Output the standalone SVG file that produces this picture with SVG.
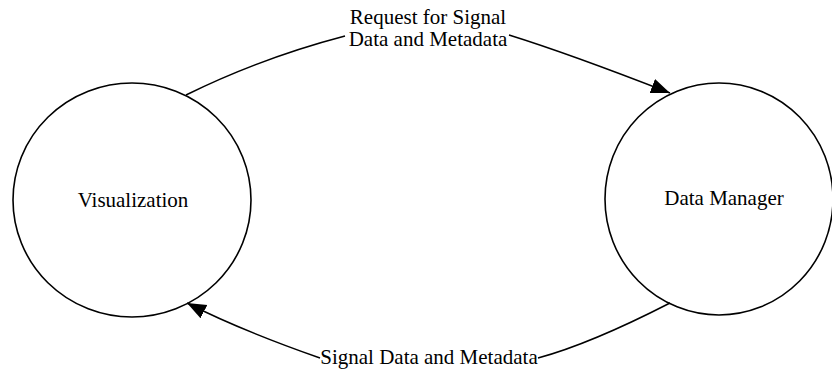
<svg xmlns="http://www.w3.org/2000/svg" width="832" height="373" viewBox="0 0 832 373">
<style>
.node{fill:#fff;stroke:#000;stroke-width:1.6}
.edge{fill:none;stroke:#000;stroke-width:1.5}
text{font-family:"Liberation Serif","Times New Roman",serif;font-size:21px;fill:#000}
</style>
<defs>
<marker id="arr" markerWidth="22" markerHeight="16" refX="19" refY="7.5" orient="auto" markerUnits="userSpaceOnUse">
<path d="M0,0 L19,7.5 L0,15 Z" fill="#000"/>
</marker>
</defs>
<rect width="832" height="373" fill="#fff"/>
<g id="visualization">
<ellipse class="node" cx="132" cy="200" rx="119" ry="117"/>
<text x="133" y="207" text-anchor="middle">Visualization</text>
</g>
<g id="data-manager">
<ellipse class="node" cx="719" cy="199" rx="114" ry="116"/>
<text x="724" y="205" text-anchor="middle">Data Manager</text>
</g>
<g id="connectors">
<path class="edge" d="M186,95 Q261,58 345,36"/>
<path class="edge" d="M509,35 Q570,54 670,93" marker-end="url(#arr)"/>
<text x="428" y="24" text-anchor="middle">Request for Signal</text>
<text x="428" y="46" text-anchor="middle">Data and Metadata</text>
<path class="edge" d="M670,303 Q590,344 538,358"/>
<path class="edge" d="M320,358 Q240,330 187,303" marker-end="url(#arr)"/>
<text x="429" y="364" text-anchor="middle">Signal Data and Metadata</text>
</g>
</svg>
